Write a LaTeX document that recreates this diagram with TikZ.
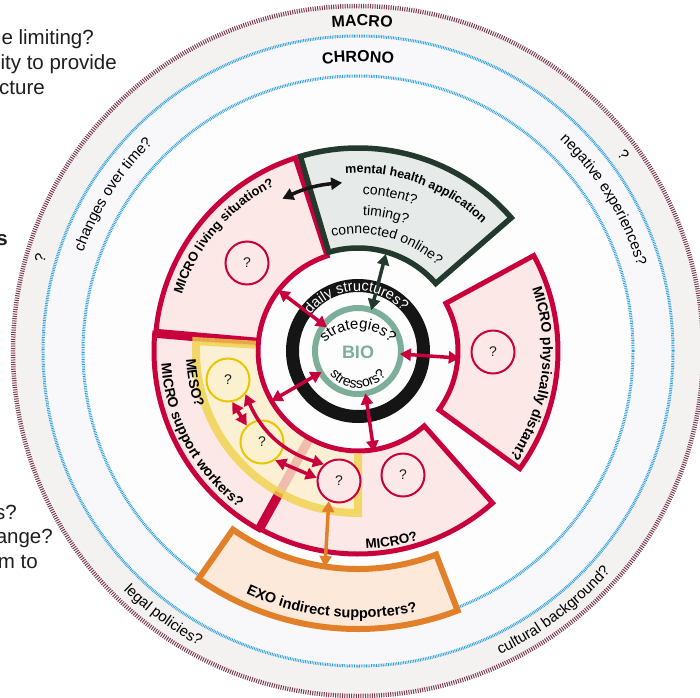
\documentclass[tikz,border=0pt]{standalone}
\usepackage{fontspec}
\setmainfont{Liberation Sans}
\usetikzlibrary{arrows.meta,decorations.text}
\definecolor{mred}{HTML}{C8003C}
\definecolor{pinkfill}{HTML}{FCE9E7}
\definecolor{dkgreen}{HTML}{24392E}
\definecolor{greenfill}{HTML}{E6EAE8}
\definecolor{bioteal}{HTML}{7DAE9A}
\definecolor{ringblack}{HTML}{151515}
\definecolor{mesoyellow}{HTML}{F0D24A}
\definecolor{mesofill}{HTML}{FBF1CF}
\definecolor{circyellow}{HTML}{E8C600}
\definecolor{exoorange}{HTML}{E2802A}
\definecolor{exofill}{HTML}{FDE9DA}
\definecolor{macromaroon}{HTML}{7B3A52}
\definecolor{chronoblue}{HTML}{2F9FD8}
\definecolor{bandgray}{HTML}{F3F2F1}
\definecolor{bandblue}{HTML}{F8F8FB}
\definecolor{innerwhite}{HTML}{FDFDFE}
\definecolor{txtgray}{HTML}{1E1E1E}
\newcommand\myfs[1]{\fontsize{#1}{#1}\selectfont}
\newcommand\cwtext[5]{\path[decorate,decoration={text along path,text align=center,text={|#4|#5}}] ({#2+#3}:#1) arc[start angle={#2+#3},end angle={#2-#3},radius=#1];}
\newcommand\ccwtext[5]{\path[decorate,decoration={text along path,text align=center,text={|#4|#5}}] ({#2-#3}:#1) arc[start angle={#2-#3},end angle={#2+#3},radius=#1];}
\tikzset{
  macrodash/.style={draw=macromaroon,line width=4.5pt,dash pattern=on 1pt off 1.3pt},
  chronodash/.style={draw=chronoblue,line width=3pt,dash pattern=on 0.8pt off 0.9pt},
  redsec/.style={draw=mred,fill=pinkfill,line width=5pt,line join=miter},
  appsec/.style={draw=dkgreen,fill=greenfill,line width=5.5pt,line join=miter},
  exosec/.style={draw=exoorange,fill=exofill,line width=6pt,line join=miter},
  thickbound/.style={draw=mred,line width=9pt},
  qred/.style={circle,draw=mred,line width=2pt,fill=pinkfill,minimum size=43pt,inner sep=0pt,font=\myfs{14},text=txtgray},
  qyel/.style={circle,draw=circyellow,line width=2pt,fill=mesofill,minimum size=43pt,inner sep=0pt,font=\myfs{14},text=txtgray},
  lefttext/.style={font=\myfs{20.5},text=txtgray,inner sep=0pt,anchor=base east},
  tip/.tip={Triangle[length=11pt,width=12pt]},
  redarr/.style={draw=mred,line width=3.5pt,tip-tip},
  blkarr/.style={draw=ringblack,line width=3.5pt,tip-tip},
  grnarr/.style={draw=dkgreen,line width=3.5pt,tip-tip},
  orarr/.style={draw=exoorange,line width=3.5pt,tip-tip},
}
\begin{document}
\begin{tikzpicture}[x=1pt,y=1pt]
\useasboundingbox (-358,-346) rectangle (342,351);
\fill[white] (-358,-346) rectangle (342,351);
% outer rings
\fill[bandgray] (0,0) circle[radius=345];
\draw[macrodash] (0,0) circle[radius=345];
\fill[bandblue] (0,0) circle[radius=315];
\draw[chronodash] (0,0) circle[radius=315];
\fill[innerwhite] (0,0) circle[radius=275];
\draw[chronodash] (0,0) circle[radius=275];
% cropped side text
\node[lefttext] (t1) at (-264,307) {e limiting?};
\node[lefttext] (t2) at (-241,282) {ity to provide};
\node[lefttext] (t3) at (-313,257) {cture};
\node[lefttext,font=\bfseries\myfs{20.5}] (t4) at (-350,106) {s};
\node[lefttext] (t5) at (-341,-168) {s?};
\node[lefttext] (t6) at (-305,-192) {ange?};
\node[lefttext] (t7) at (-320,-217) {m to};
% outer band labels
\cwtext{325}{89.3}{20}{\bfseries\myfs{16}}{MACRO}
\cwtext{289}{90}{20}{\bfseries\myfs{16}}{CHRONO}
\cwtext{292}{147.5}{25}{\myfs{15}}{changes over time?}
\cwtext{292}{31.6}{25}{\myfs{15}}{negative experiences?}
\ccwtext{335}{233.6}{20}{\myfs{15}}{legal policies?}
\ccwtext{335}{-53}{20}{\myfs{15}}{cultural background?}
\node[font=\myfs{15},rotate=-53.6,inner sep=0pt] (q1) at (36.4:330) {?};
\node[font=\myfs{15},rotate=73.7,inner sep=0pt] (q2) at (163.7:331) {?};
% EXO sector
\draw[exosec] (235:218) arc[start angle=235,end angle=291,radius=218] -- (291:278) arc[start angle=291,end angle=235,radius=278] -- cycle;
% red sectors
\draw[redsec] (108:100) arc[start angle=108,end angle=175,radius=100] -- (175:203) arc[start angle=175,end angle=108,radius=203] -- cycle;
\draw[redsec] (175:100) arc[start angle=175,end angle=241,radius=100] -- (241:204) arc[start angle=241,end angle=175,radius=204] -- cycle;
\draw[redsec] (241:100) arc[start angle=241,end angle=311.5,radius=100] -- (311.5:203) arc[start angle=311.5,end angle=241,radius=203] -- cycle;
\draw[redsec] (-36:100) arc[start angle=-36,end angle=28.5,radius=100] -- (28.5:200) arc[start angle=28.5,end angle=-36,radius=200] -- cycle;
% mental health application sector
\draw[appsec] (41:103) arc[start angle=41,end angle=106.5,radius=103] -- (106.5:203) arc[start angle=106.5,end angle=41,radius=203] -- cycle;
% thick boundaries
\draw[thickbound] (175:100) -- (175:203);
\draw[thickbound] (241:100) -- (241:204);
% MESO sector
\fill[mesofill,fill opacity=0.78] (176.5:102.5) arc[start angle=176.5,end angle=270,radius=102.5] -- (270:162) arc[start angle=270,end angle=176.5,radius=162] -- cycle;
\draw[mesoyellow,draw opacity=0.8,line width=8pt,line join=miter] (176.5:102.5) -- (176.5:162) arc[start angle=176.5,end angle=270,radius=162] -- (270:102.5);
% circles
\node[qred] (cl) at (-111,88) {?};
\node[qred] (cp) at (135,-1) {?};
\node[qred] (cm) at (45,-124) {?};
\node[qred] (c3) at (-19,-130) {?};
\node[qyel] (c1) at (-130,-29) {?};
\node[qyel] (c2) at (-96,-91) {?};
% BIO rings
\draw[ringblack,line width=13pt] (0,0) circle[radius=65.5];
\draw[bioteal,line width=6pt] (0,0) circle[radius=43];
\node[font=\bfseries\myfs{18},text=bioteal,inner sep=0pt] (bio) at (0,-1) {BIO};
% arrow end points
\coordinate (livIn) at (142.7:100);
\coordinate (bioA) at (142.6:39);
\coordinate (bioR) at (-4:42);
\coordinate (physIn) at (-4:102);
\coordinate (bioB) at (-80:43);
\coordinate (microIn) at (-81:102);
\coordinate (bioL) at (210:42);
\coordinate (suppIn) at (210:100);
\coordinate (bioT) at (72:43);
\coordinate (appIn) at (74:101);
\coordinate (livOut) at (116.4:170);
\coordinate (appOut) at (95.4:169);
\coordinate (exoIn) at (-33,-216);
% arrows
\draw[redarr] (livIn) -- (bioA);
\draw[redarr] (bioR) -- (physIn);
\draw[redarr] (bioB) -- (microIn);
\draw[redarr] (bioL) -- (suppIn);
\draw[grnarr] (bioT) -- (appIn);
\draw[blkarr] (livOut) to[bend left=10] (appOut);
\draw[redarr] (c1.-79) -- (c2.133);
\draw[redarr] (c2.-54) -- (c3.172);
\draw[redarr] (c1.-39) to[bend right=25] (c3.132);
\draw[orarr] (c3.-117) -- (exoIn);
% sector labels
\cwtext{185}{139.5}{40}{\bfseries\myfs{13}}{MICRO  living situation?}
\ccwtext{197}{208.2}{40}{\bfseries\myfs{14}}{MICRO support workers?}
\ccwtext{172}{191}{25}{\bfseries\myfs{14}}{MESO?}
\ccwtext{198}{280}{25}{\bfseries\myfs{13.5}}{MICRO?}
\cwtext{185}{-7.5}{40}{\bfseries\myfs{14}}{MICRO physically distant?}
\cwtext{178}{69.9}{40}{\bfseries\myfs{12.5}}{mental health application}
\cwtext{157}{78.5}{30}{\myfs{14}}{content?}
\cwtext{136}{78.4}{30}{\myfs{14}}{timing?}
\cwtext{117}{75}{45}{\myfs{14}}{connected online?}
\ccwtext{267}{264}{30}{\bfseries\myfs{14.5}}{EXO indirect supporters?}
\cwtext{60}{92}{75}{\color{white}\myfs{14.5}}{daily structures?}
\path[decorate,decoration={text along path,text align=center,text={|\myfs{15}|strategies?}}] (-39.84,-1) arc[start angle=150,end angle=30,radius=46];
\ccwtext{37}{270}{80}{\myfs{14}}{stressors?}
\end{tikzpicture}
\end{document}
